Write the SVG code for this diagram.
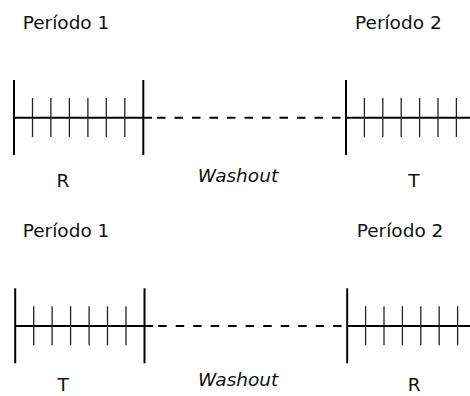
<svg xmlns="http://www.w3.org/2000/svg" width="470" height="396" viewBox="0 0 470 396">
<style>
.t{font-family:"DejaVu Sans",Verdana,sans-serif;font-size:18.5px;fill:#111}
.w{font-style:italic;text-anchor:middle}
.m{text-anchor:middle}
.axis{stroke:#000;stroke-width:2;fill:none}
.bar{stroke:#000;stroke-width:2}
.tick{stroke:#222;stroke-width:1.3}
.dash{stroke:#000;stroke-width:2;stroke-dasharray:8.5 9;fill:none}
</style>
<rect width="470" height="396" fill="#fff"/>
<g id="row1">
  <g id="p1-label"><text class="t" x="22.7" y="29">Período 1</text></g>
  <g id="p2-label"><text class="t" x="355" y="29">Período 2</text></g>
  <g id="period1">
    <line class="axis" x1="14" y1="117.7" x2="152" y2="117.7"/>
    <line class="bar" x1="14" y1="80" x2="14" y2="155"/>
    <line class="bar" x1="143.3" y1="80" x2="143.3" y2="155"/>
    <path class="tick" d="M32.5 98V137M50.9 98V137M69.4 98V137M87.9 98V137M106.3 98V137M124.8 98V137"/>
  </g>
  <g id="period2">
    <line class="axis" x1="346" y1="117.7" x2="470" y2="117.7"/>
    <line class="bar" x1="346" y1="80" x2="346" y2="155"/>
    <path class="tick" d="M364.4 98V137M382.8 98V137M401.2 98V137M419.6 98V137M438 98V137M456.4 98V137"/>
  </g>
  <g id="connectors1"><line class="dash" x1="157" y1="117.7" x2="341" y2="117.7"/></g>
  <g id="labels1">
    <text class="t m" x="63" y="186.5">R</text>
    <text class="t w" x="238" y="182">Washout</text>
    <text class="t m" x="414" y="186.5">T</text>
  </g>
</g>
<g id="row2" transform="translate(1.2,208.3)">
  <g id="p1-label2"><text class="t" x="21.5" y="28.7">Período 1</text></g>
  <g id="p2-label2"><text class="t" x="355.5" y="28.7">Período 2</text></g>
  <g id="period1b">
    <line class="axis" x1="14" y1="117.7" x2="152" y2="117.7"/>
    <line class="bar" x1="14" y1="80" x2="14" y2="155"/>
    <line class="bar" x1="143.3" y1="80" x2="143.3" y2="155"/>
    <path class="tick" d="M32.5 98V137M50.9 98V137M69.4 98V137M87.9 98V137M106.3 98V137M124.8 98V137"/>
  </g>
  <g id="period2b">
    <line class="axis" x1="346" y1="117.7" x2="470" y2="117.7"/>
    <line class="bar" x1="346" y1="80" x2="346" y2="155"/>
    <path class="tick" d="M364.4 98V137M382.8 98V137M401.2 98V137M419.6 98V137M438 98V137M456.4 98V137"/>
  </g>
  <g id="connectors2"><line class="dash" x1="157" y1="117.7" x2="341" y2="117.7"/></g>
  <g id="labels2">
    <text class="t m" x="62" y="182.5">T</text>
    <text class="t w" x="237" y="178">Washout</text>
    <text class="t m" x="413" y="182.5">R</text>
  </g>
</g>
</svg>
